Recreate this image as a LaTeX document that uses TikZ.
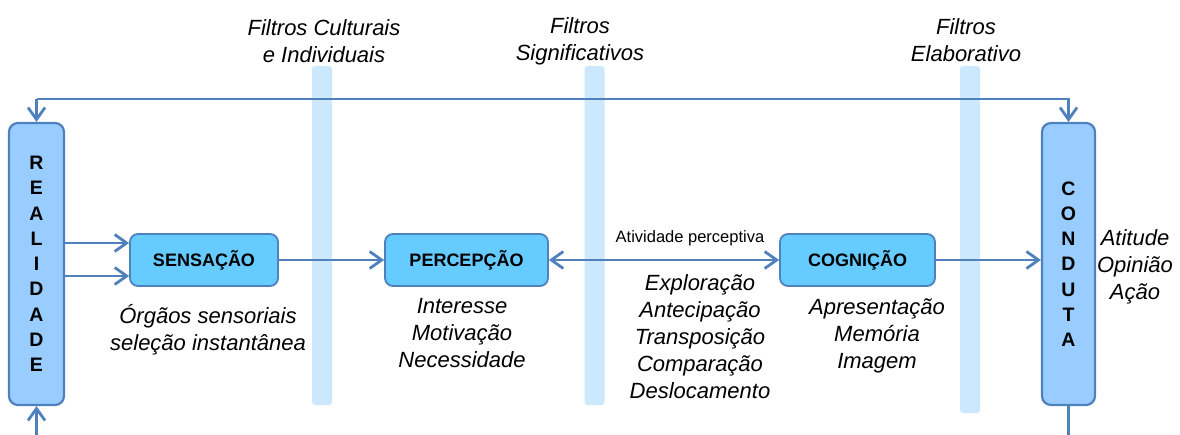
\documentclass[tikz,border=0pt]{standalone}
\usepackage{fontspec}
\setmainfont{Liberation Sans}
\usetikzlibrary{arrows.meta}
\definecolor{lineblue}{RGB}{79,129,189}
\definecolor{boxfill}{RGB}{102,204,255}
\definecolor{barfill}{RGB}{153,204,255}
\definecolor{filtfill}{RGB}{204,232,255}
\tikzset{
  conn/.style={draw=lineblue, line width=2.8pt},
  barb/.tip={Straight Barb[length=12pt,width=17pt,line width=2.8pt]},
  tip/.style={-barb},
  procbox/.style={draw=lineblue, fill=boxfill, line width=1.8pt, rounded corners=8pt,
    minimum height=52pt, inner sep=0pt, font=\bfseries\fontsize{18}{20}\selectfont},
  vbar/.style={draw=lineblue, fill=barfill, line width=2.2pt, rounded corners=9pt,
    minimum width=55pt, minimum height=282pt, inner sep=0pt, align=center,
    font=\bfseries\fontsize{19.5}{25.25}\selectfont},
  filt/.style={fill=filtfill, rounded corners=3pt, minimum width=20pt, inner sep=0pt},
  lab/.style={font=\itshape\fontsize{22}{27}\selectfont, align=center, inner sep=0pt},
  smalllab/.style={font=\fontsize{16.5}{20}\selectfont, inner sep=0pt}
}
\begin{document}
\begin{tikzpicture}[x=1pt,y=-1pt]
\useasboundingbox (0,0) rectangle (1180,435);
% filters
\node[filt, minimum height=339pt] (f1) at (322,235.5) {};
\node[filt, minimum height=339pt] (f2) at (594.5,235.5) {};
\node[filt, minimum height=347pt] (f3) at (970,239.5) {};
\node[lab] (l1) at (324,41) {Filtros Culturais\\e Individuais};
\node[lab] (l2) at (580,41) {Filtros\\Significativos};
\node[lab] (l3) at (966,40) {Filtros\\Elaborativo};
% main bars
\node[vbar] (real) at (36.5,264) {R\\E\\A\\L\\I\\D\\A\\D\\E};
\node[vbar, minimum width=53pt] (cond) at (1068.5,264) {C\\O\\N\\D\\U\\T\\A};
% process boxes
\node[procbox, minimum width=148pt] (sens) at (204,260) {SENSAÇÃO};
\node[procbox, minimum width=163pt] (perc) at (466.5,260) {PERCEPÇÃO};
\node[procbox, minimum width=155pt] (cog) at (857.5,260) {COGNIÇÃO};
% connectors
\coordinate (tl) at (36.5,99);
\coordinate (bl) at (36.5,435);
\coordinate (br) at (1068.5,435);
\coordinate (ya) at (0,243);
\coordinate (yb) at (0,276);
\draw[conn, tip] (tl) -- (real.north);
\draw[conn, tip] (tl) -| (cond.north);
\draw[conn, tip] (bl) -- (real.south);
\draw[conn] (cond.south) -- (br);
\draw[conn, tip] (real.east |- ya) -- (sens.west |- ya);
\draw[conn, tip] (real.east |- yb) -- (sens.west |- yb);
\draw[conn, tip] (sens.east) -- (perc.west);
\draw[conn, barb-barb] (perc.east) -- (cog.west);
\draw[conn, tip] (cog.east) -- (cond.west |- cog.east);
\node[smalllab] (ativ) at (690,238) {Atividade perceptiva};
% labels
\node[lab] (t1) at (208,329.5) {Órgãos sensoriais\\seleção instantânea};
\node[lab] (t2) at (462,333.5) {Interesse\\Motivação\\Necessidade};
\node[lab] (t3) at (700,337) {Exploração\\Antecipação\\Transposição\\Comparação\\Deslocamento};
\node[lab] (t4) at (877,335.5) {Apresentação\\Memória\\Imagem};
\node[lab] (t5) at (1135,266.5) {Atitude\\Opinião\\Ação};
\end{tikzpicture}
\end{document}
